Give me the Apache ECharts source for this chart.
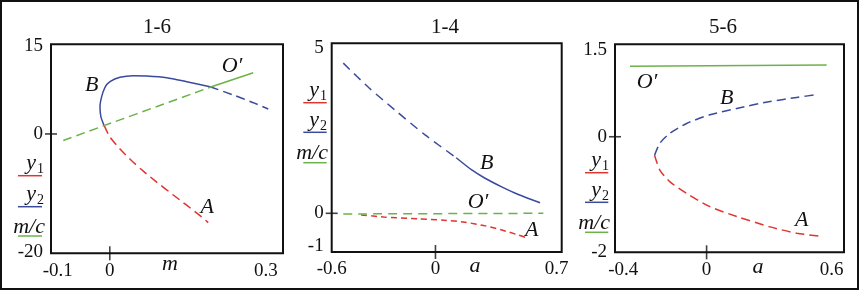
<!DOCTYPE html>
<html><head><meta charset="utf-8">
<script src="https://cdn.jsdelivr.net/npm/echarts@6/dist/echarts.min.js"></script>
<style>html,body{margin:0;padding:0;background:#fff}#c{width:863px;height:292px}</style>
</head><body><div id="c"></div><script>
// ---------- data ----------
const titles = ['1-6', '1-4', '5-6'];
const xNames = ['m', 'a', 'a'];
// axis ranges and tick labels
const xRange1 = [-0.113, 0.333], yRange1 = [-20.3, 15.25];
const xRange2 = [-0.6, 0.73],    yRange2 = [-1.17, 5.14];
const xRange3 = [-0.44, 0.66],   yRange3 = [-2, 1.6];
const xTicks1 = [-0.1, 0, 0.3], yTicks1 = [-20, 0, 15];
const xTicks2 = [-0.6, 0, 0.7], yTicks2 = [-1, 0, 5];
const xTicks3 = [-0.4, 0, 0.6], yTicks3 = [-2, 0, 1.5];
const markTick = 0; // the one tick mark drawn across each axis

// Panel 1-6  (x = m)
const p1_y1_dash = [[-0.011,1.45],[0.0004,-0.52],[0.0196,-2.56],[0.0421,-4.55],[0.0644,-6.32],[0.0902,-8.19],[0.1221,-10.38],[0.1478,-12.12],[0.1734,-13.89],[0.1893,-15.09]];
const p1_y2_solid = [[-0.011,1.45],[-0.0172,3.0],[-0.0188,4.64],[-0.0156,6.34],[-0.0092,7.94],[0.0004,8.89],[0.0196,9.64],[0.0452,9.91],[0.0709,9.86],[0.1094,9.57],[0.1478,8.89],[0.1926,8.04]];
const p1_y2_dash = [[0.1926,8.04],[0.2374,6.63],[0.2758,5.32],[0.3047,4.25]];
const p1_mc_dash = [[-0.0894,-1.1],[0.1926,7.94]];
const p1_mc_solid = [[0.1926,7.94],[0.2758,10.42]];

// Panel 1-4  (x = a)
const p2_y1_dash = [[-0.43,-0.05],[-0.3,-0.11],[-0.1,-0.17],[0.05,-0.21],[0.17,-0.27],[0.29,-0.38],[0.38,-0.50],[0.47,-0.64],[0.54,-0.76]];
const p2_y2_dash = [[-0.533,4.54],[-0.388,3.81],[-0.234,3.12],[-0.060,2.37],[0.12,1.68]];
const p2_y2_solid = [[0.12,1.68],[0.210,1.31],[0.2865,1.06],[0.383,0.80],[0.479,0.57],[0.605,0.32]];
const p2_mc_dash = [[-0.533,-0.02],[0.624,0.0]];

// Panel 5-6  (x = a)
const p3_y1_dash = [[-0.25,-0.32],[-0.224,-0.58],[-0.176,-0.78],[-0.096,-0.98],[0.016,-1.21],[0.145,-1.38],[0.305,-1.56],[0.433,-1.67],[0.545,-1.72]];
const p3_y2_dash = [[-0.25,-0.32],[-0.224,-0.11],[-0.176,0.06],[-0.096,0.23],[0.016,0.38],[0.145,0.49],[0.305,0.61],[0.433,0.68],[0.529,0.73]];
const p3_mc_solid = [[-0.368,1.22],[0.577,1.24]];

// ---------- style ----------
const FONT = '"Liberation Serif", "Times New Roman", serif';
const RED = '#e0342f', BLUE = '#3a4a9e', GREEN = '#6cb24a', INK = '#111';
const grids = [
  {left: 51, top: 44.3, width: 232, height: 209},
  {left: 331.7, top: 43.3, width: 230, height: 208.7},
  {left: 615, top: 44.3, width: 229, height: 208}
];
const xRanges = [xRange1, xRange2, xRange3], yRanges = [yRange1, yRange2, yRange3];
const xTicks = [xTicks1, xTicks2, xTicks3], yTicks = [yTicks1, yTicks2, yTicks3];

const chart = echarts.init(document.getElementById('c'), null, {renderer: 'canvas'});
const xAxis = [], yAxis = [], grid = [];
grids.forEach((g, i) => {
  grid.push(Object.assign({show: true, borderColor: INK, borderWidth: 2, backgroundColor: 'transparent', outerBoundsMode: 'none'}, g));
  const lab = (vals) => ({show: true, customValues: vals, margin: 8, fontFamily: FONT, fontSize: 19, color: INK, formatter: v => String(v)});
  xAxis.push({gridIndex: i, type: 'value', position: 'bottom', min: xRanges[i][0], max: xRanges[i][1],
    axisLine: {show: false, onZero: false}, splitLine: {show: false}, axisTick: {show: false}, axisLabel: lab(xTicks[i])});
  yAxis.push({gridIndex: i, type: 'value', position: 'left', min: yRanges[i][0], max: yRanges[i][1],
    axisLine: {show: false, onZero: false}, splitLine: {show: false}, axisTick: {show: false}, axisLabel: lab(yTicks[i])});
});

function line(gi, name, data, color, dash) {
  return {type: 'line', name, xAxisIndex: gi, yAxisIndex: gi, data, symbol: 'none', smooth: 0.25,
    lineStyle: {color, width: 1.5, type: dash || 'solid'}, silent: true, z: 3};
}
const series = [
  line(0, 'y1', p1_y1_dash, RED, [9, 5]),
  line(0, 'y2', p1_y2_solid, BLUE),
  line(0, 'y2', p1_y2_dash, BLUE, [9, 5]),
  line(0, 'm/c', p1_mc_dash, GREEN, [9, 5]),
  line(0, 'm/c', p1_mc_solid, GREEN),
  line(1, 'y1', p2_y1_dash, RED, [6, 4]),
  line(1, 'y2', p2_y2_dash, BLUE, [9, 6]),
  line(1, 'y2', p2_y2_solid, BLUE),
  line(1, 'm/c', p2_mc_dash, GREEN, [9, 6]),
  line(2, 'y1', p3_y1_dash, RED, [9, 5]),
  line(2, 'y2', p3_y2_dash, BLUE, [9, 5]),
  line(2, 'm/c', p3_mc_solid, GREEN)
];
// tick marks crossing each axis at zero, placed through the axis scales
[0, 1, 2].forEach(i => {
  series.push({type: 'scatter', xAxisIndex: i, yAxisIndex: i, silent: true, clip: false, z: 5,
    data: [[markTick, yRanges[i][0]]], symbol: 'rect', symbolSize: [1.6, 14], itemStyle: {color: INK}});
  series.push({type: 'scatter', xAxisIndex: i, yAxisIndex: i, silent: true, clip: false, z: 5,
    data: [[xRanges[i][0], markTick]], symbol: 'rect', symbolSize: [12, 1.6], itemStyle: {color: INK}});
});

// ---------- annotations ----------
const graphic = [];
graphic.push({type: 'rect', shape: {x: 1, y: 1, width: 857, height: 288}, style: {fill: 'none', stroke: INK, lineWidth: 2}, silent: true});
const titlePos = [[157, 27], [445, 27], [723, 27]];
titles.forEach((t, i) => graphic.push({type: 'text', x: titlePos[i][0], y: titlePos[i][1],
  style: {text: t, font: '21px ' + FONT, fill: INK, textAlign: 'center', textVerticalAlign: 'middle'}}));
const namePos = [[170, 264], [475, 266], [758, 267]];
xNames.forEach((t, i) => graphic.push({type: 'text', x: namePos[i][0], y: namePos[i][1],
  style: {text: t, font: 'italic 22px ' + FONT, fill: INK, textAlign: 'center', textVerticalAlign: 'middle'}}));
// curve labels
const curveLabels = [
  ['B', 91.7, 85], ['O\u2032', 232, 66], ['A', 207.3, 207.3],
  ['B', 486.7, 163.3], ['O\u2032', 478, 202], ['A', 531.7, 230],
  ['O\u2032', 647, 82], ['B', 726.7, 98.3], ['A', 801.7, 220.7]
];
curveLabels.forEach(([t, x, y]) => graphic.push({type: 'text', x, y,
  style: {text: t, font: 'italic 22px ' + FONT, fill: INK, textAlign: 'center', textVerticalAlign: 'middle'}}));
// legends (text right edge, line x range, line ys)
const legends = [
  {xr: 44, x1: 18, x2: 42, ys: [175.7, 206.7, 236]},
  {xr: 327, x1: 303.3, x2: 326.7, ys: [102.7, 132.3, 162.7]},
  {xr: 609, x1: 585, x2: 608.3, ys: [172.7, 202.3, 232.3]}
];
legends.forEach(L => {
  const cols = [RED, BLUE, GREEN];
  L.ys.forEach((ly, k) => {
    graphic.push({type: 'line', shape: {x1: L.x1, y1: ly, x2: L.x2, y2: ly}, style: {stroke: cols[k], lineWidth: 1.5}, silent: true});
  });
  ['1', '2'].forEach((sub, k) => {
    const ly = L.ys[k];
    graphic.push({type: 'text', x: L.xr - 8, y: ly - 12, style: {text: 'y', font: 'italic 22px ' + FONT, fill: INK, textAlign: 'right', textVerticalAlign: 'middle'}});
    graphic.push({type: 'text', x: L.xr, y: ly - 6, style: {text: sub, font: '14px ' + FONT, fill: INK, textAlign: 'right', textVerticalAlign: 'middle'}});
  });
  graphic.push({type: 'text', x: L.xr + 1, y: L.ys[2] - 9, style: {text: 'm/c', font: 'italic 22px ' + FONT, fill: INK, textAlign: 'right', textVerticalAlign: 'middle'}});
});

chart.setOption({
  animation: false,
  backgroundColor: '#fff',
  grid, xAxis, yAxis, series, graphic
});
</script></body></html>
